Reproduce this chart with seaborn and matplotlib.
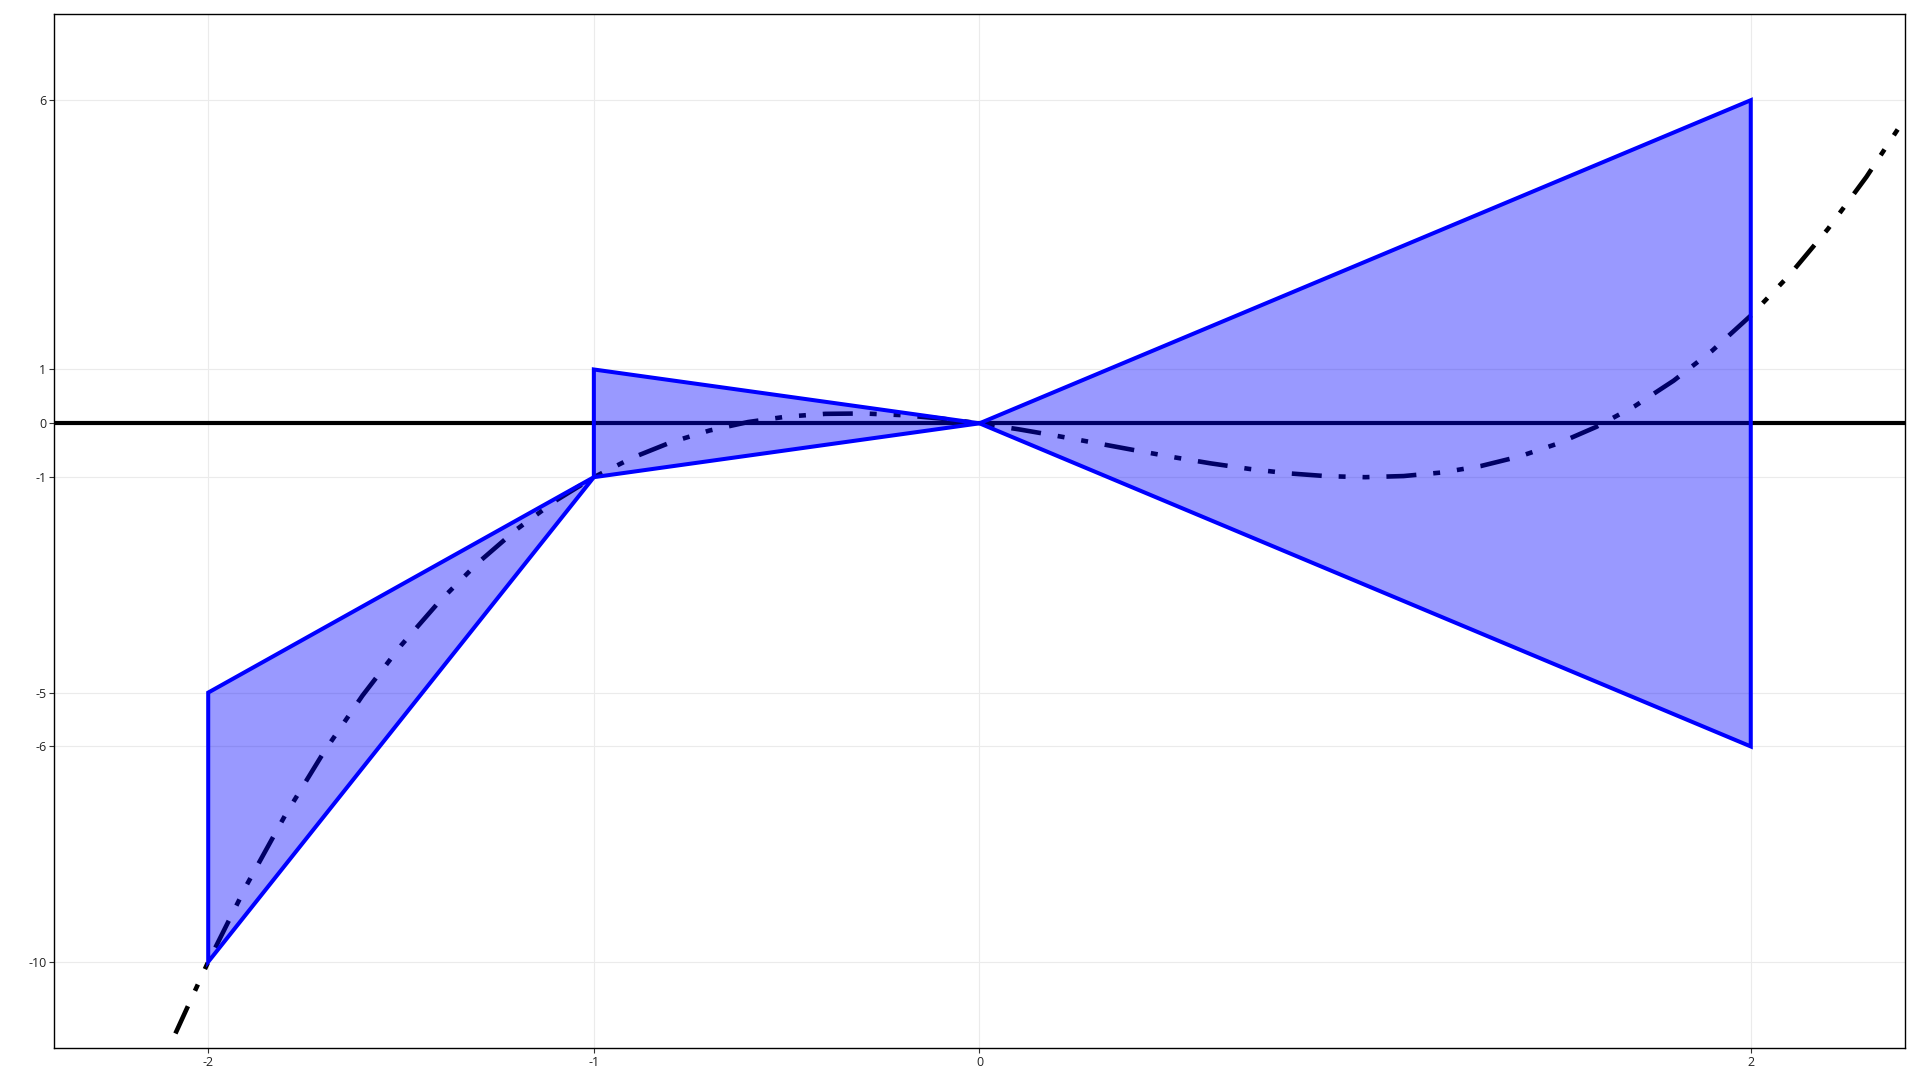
import numpy as np
import pandas as pd
import matplotlib
matplotlib.use("Agg")
import matplotlib.pyplot as plt
import seaborn as sns

# ---- data ----
curve_x = [-2.085, -2.0, -1.9, -1.8, -1.7, -1.6, -1.5, -1.4, -1.3, -1.2, -1.1, -1.0,
           -0.9, -0.8, -0.7, -0.6, -0.5, -0.4, -0.3, -0.2, -0.1, 0.0,
           0.1, 0.2, 0.3, 0.4, 0.5, 0.6, 0.7, 0.8, 0.9, 1.0,
           1.1, 1.2, 1.3, 1.4, 1.5, 1.6, 1.7, 1.8, 1.9, 2.0,
           2.1, 2.2, 2.3, 2.4]
curve_y = [-11.33, -10.0, -8.569, -7.272, -6.103, -5.056, -4.125, -3.304, -2.587, -1.968, -1.441, -1.0,
           -0.639, -0.352, -0.133, 0.024, 0.125, 0.176, 0.183, 0.152, 0.089, 0.0,
           -0.109, -0.232, -0.363, -0.496, -0.625, -0.744, -0.847, -0.928, -0.981, -1.0,
           -0.979, -0.912, -0.793, -0.616, -0.375, -0.064, 0.323, 0.792, 1.349, 2.0,
           2.751, 3.608, 4.577, 5.664]

tri1_x = [-2, -1, -2]
tri1_y = [-5, -1, -10]
tri2_x = [-1, 0, -1]
tri2_y = [1, 0, -1]
tri3_x = [0, 2, 2]
tri3_y = [0, 6, -6]

x_ticks = [-2, -1, 0, 2]
y_ticks = [-10, -6, -5, -1, 0, 1, 6]

# ---- styling ----
sns.set_style("white")
plt.rcParams["font.family"] = ["Open Sans", "DejaVu Sans"]
plt.rcParams["lines.scale_dashes"] = False
plt.rcParams["axes.unicode_minus"] = False

fig = plt.figure(figsize=(19.2, 10.8), dpi=100)
ax = fig.add_axes([0.0281, 0.0296, 0.9641, 0.9574])

ax.set_xlim(-2.4, 2.4)
ax.set_ylim(-11.6, 7.6)

ax.set_xticks(x_ticks)
ax.set_yticks(y_ticks)
ax.grid(True, color="#ebebeb", linewidth=0.8, zorder=0)
ax.set_axisbelow(True)

# zero line
ax.axhline(0, color="black", linewidth=3.0, zorder=2)

# curve
df = pd.DataFrame({"x": curve_x, "y": curve_y})
sns.lineplot(data=df, x="x", y="y", ax=ax, color="black", linewidth=3.3,
             sort=False, estimator=None, zorder=3,
             linestyle=(0, (21.6, 12.2, 5.0, 12.2, 5.0, 12.2)))
for l in ax.lines[-1:]:
    l.set_dash_capstyle("butt")

# triangles
for tx, ty in [(tri1_x, tri1_y), (tri2_x, tri2_y), (tri3_x, tri3_y)]:
    ax.fill(tx, ty, facecolor=(0, 0, 1, 0.4), edgecolor="none", zorder=4)
    ax.fill(tx, ty, facecolor="none", edgecolor="blue", linewidth=2.9,
            joinstyle="miter", zorder=5)

ax.set_xlabel("")
ax.set_ylabel("")

for side in ["left", "right", "top", "bottom"]:
    ax.spines[side].set_visible(True)
    ax.spines[side].set_color("black")
    ax.spines[side].set_linewidth(1.0)

ax.tick_params(axis="both", which="both", direction="out", length=3.5, width=0.8,
               color="#333333", labelcolor="#222222", labelsize=9, pad=2,
               left=True, bottom=True, top=False, right=False)

fig.savefig("out.png", dpi=100, facecolor="white")
